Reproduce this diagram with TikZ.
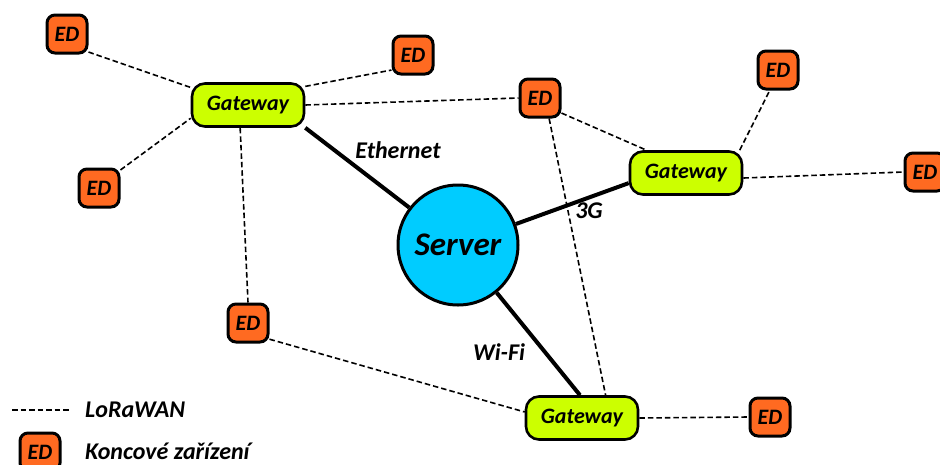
\documentclass[tikz,border=0pt]{standalone}
\usepackage{fontspec}
\setmainfont{Carlito}
\usepackage{tikz}
\usetikzlibrary{arrows.meta,positioning,shapes.geometric}
\definecolor{edfill}{HTML}{FF6A21}
\definecolor{gwfill}{HTML}{CCFF00}
\definecolor{srvfill}{HTML}{00CCFF}
\tikzset{
  ed/.style={draw, line width=3pt, fill=edfill, rounded corners=8pt, minimum width=40pt, minimum height=38pt, inner sep=0pt, font=\fontsize{22}{24}\selectfont\bfseries\itshape},
  gw/.style={draw, line width=2.6pt, fill=gwfill, rounded corners=13pt, minimum width=112pt, minimum height=43pt, inner sep=0pt, font=\fontsize{22}{24}\selectfont\bfseries\itshape},
  srv/.style={draw, circle, line width=3pt, fill=srvfill, minimum size=120pt, inner sep=0pt, font=\fontsize{33}{36}\selectfont\bfseries\itshape},
  lora/.style={line width=1.6pt, dash pattern=on 5.5pt off 3pt},
  link/.style={line width=4pt},
  lbl/.style={font=\fontsize{24}{26}\selectfont\bfseries\itshape, inner sep=0pt}
}
\begin{document}
\begin{tikzpicture}[x=1pt,y=-1pt]
\useasboundingbox (0,0) rectangle (940,464);
\node[srv] (server) at (458,245) {Server};
\node[gw] (gw1) at (248,105) {Gateway};
\node[gw] (gw2) at (686,173) {Gateway};
\node[gw] (gw3) at (582,418) {Gateway};
\node[ed] (ed1) at (67,34) {ED};
\node[ed] (ed2) at (413,55) {ED};
\node[ed] (ed3) at (540,98) {ED};
\node[ed] (ed4) at (778,70) {ED};
\node[ed] (ed5) at (925,172) {ED};
\node[ed] (ed6) at (99,188) {ED};
\node[ed] (ed7) at (248,323) {ED};
\node[ed] (ed8) at (770,417) {ED};
\draw[lora] (ed1.-40) -- (gw1.163);
\draw[lora] (gw1.18) -- (ed2.215);
\draw[lora] (gw1.east) -- (ed3.west);
\draw[lora] (ed6.40) -- (gw1.193);
\draw[lora] (gw1.-109) -- (ed7.north);
\draw[lora] (ed3.-35) -- (gw2.150);
\draw[lora] (ed3.-66) -- (gw3.44);
\draw[lora] (gw2.23) -- (ed4.-112);
\draw[lora] (gw2.-5) -- (ed5.west);
\draw[lora] (ed7.-37) -- (gw3.174);
\draw[lora] (gw3.east) -- (ed8.west);
\draw[link] (gw1.south east) -- (server);
\draw[link] (server) -- (gw2.190);
\draw[link] (server) -- (gw3.95);
\node[lbl] (eth) at (398,150) {Ethernet};
\node[lbl] (g3) at (589,211) {3G};
\node[lbl] (wifi) at (499,352) {Wi-Fi};
\coordinate (la) at (12,410);
\coordinate (lb) at (70,410);
\draw[lora] (la) -- (lb);
\node[lbl, anchor=west] (loratxt) at (85,410) {LoRaWAN};
\node[ed] (edleg) at (40,452) {ED};
\node[lbl, anchor=west] (edtxt) at (85,451) {Koncové zařízení};
\end{tikzpicture}
\end{document}
